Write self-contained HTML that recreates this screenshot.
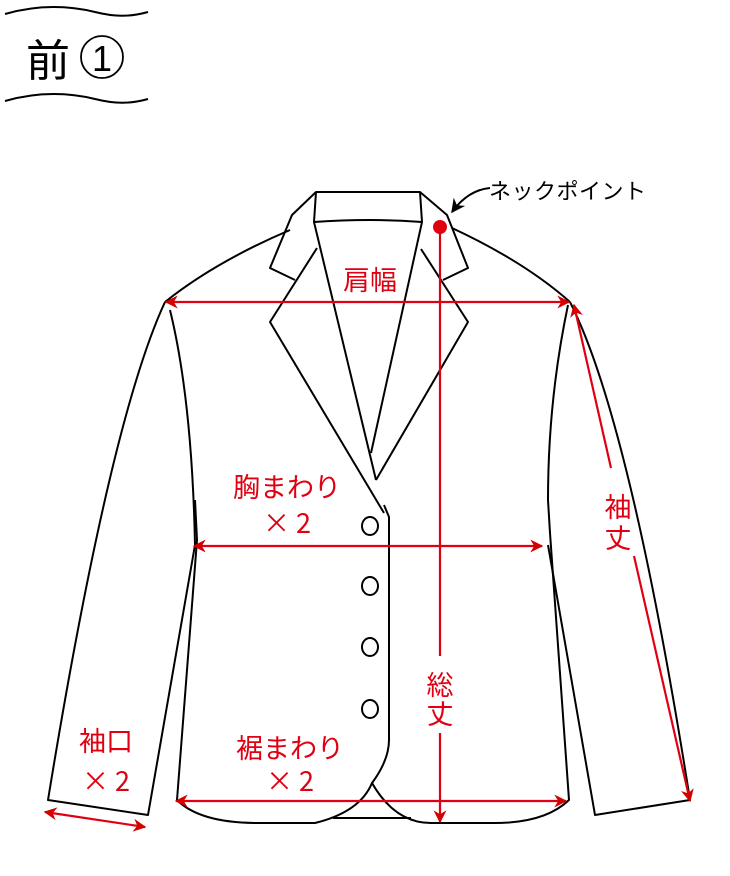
<!DOCTYPE html>
<html><head><meta charset="utf-8"><style>
html,body{margin:0;padding:0;background:#fff}
svg{display:block}
text{font-family:"Liberation Sans","Noto Sans CJK JP",sans-serif}
.x{font-family:"Noto Sans CJK JP",sans-serif}
</style></head><body>
<svg width="730" height="876" viewBox="0 0 730 876" xmlns="http://www.w3.org/2000/svg">
<defs>
<marker id="ar" viewBox="0 0 10 10" refX="9" refY="5" markerWidth="13" markerHeight="13" markerUnits="userSpaceOnUse" orient="auto-start-reverse"><path d="M0,0 L10,5 L0,10 L3,5 Z" fill="#d40000"/></marker>
<marker id="ak" viewBox="0 0 10 10" refX="9" refY="5" markerWidth="14" markerHeight="14" markerUnits="userSpaceOnUse" orient="auto"><path d="M0,0 L10,5 L0,10 L3,5 Z" fill="#000"/></marker>
</defs>
<path d="M5,14 C40,4 70,6 95,12 C115,17 130,17 148,12" fill="none" stroke="#000" stroke-width="2"/>
<path d="M5,101 C40,91 70,93 95,99 C115,104 130,104 148,99" fill="none" stroke="#000" stroke-width="2"/>
<text x="26" y="76" font-size="44" fill="#000">前</text>
<circle cx="102" cy="57" r="21" fill="none" stroke="#000" stroke-width="1.8"/>
<text x="102" y="71" font-size="36" text-anchor="middle" fill="#000">1</text>

<g fill="none" stroke="#000" stroke-width="2" stroke-linejoin="round">
<path d="M316,192 L420,192 L422,222 Q370,218 314,222 Z"/>
<path d="M316,192 L292,215 L270,268 L295,280"/>
<path d="M290,230 Q215,262 165,302"/>
<path d="M420,192 L447,215 L468,268 L443,280"/>
<path d="M452,228 Q525,262 570,302"/>
<path d="M314,222 L376,480"/>
<path d="M422,222 L371,453"/>
<path d="M317,248 L270,322 L384,513"/>
<path d="M421,249 L468,322 L376,480"/>
<path d="M165,302 Q110,420 48,800 L148,815 L195,545 Q192,400 170,310"/>
<path d="M195,500 L197,540 L177,800 Q200,823 258,823 L315,823 Q360,812 372,783 Q389,760 389,740 L389,517 L384,505"/>
<path d="M372,783 Q395,823 431,823 L495,823 Q545,823 569,800 L550,533 L548,500 Q548,400 568,305"/>
<path d="M333,818 L411,818"/>
<path d="M570,302 Q630,420 690,800 L595,815 L548,545"/>
<ellipse cx="370" cy="526" rx="8" ry="9"/>
<ellipse cx="370" cy="586" rx="8" ry="9"/>
<ellipse cx="370" cy="647" rx="8" ry="9"/>
<ellipse cx="370" cy="709" rx="8" ry="9"/>
</g>

<path d="M490,188 Q468,190 452,212" fill="none" stroke="#000" stroke-width="2" marker-end="url(#ak)"/>
<text x="489" y="199" font-size="22" fill="#000" letter-spacing="0.5">ネックポイント</text>

<g stroke="#e00012" stroke-width="2.2" fill="none">
<line x1="166" y1="302" x2="569" y2="302" marker-start="url(#ar)" marker-end="url(#ar)"/>
<line x1="194" y1="546" x2="542" y2="546" marker-start="url(#ar)" marker-end="url(#ar)"/>
<line x1="176" y1="801" x2="566" y2="801" marker-start="url(#ar)" marker-end="url(#ar)"/>
<line x1="440" y1="228" x2="440" y2="656"/>
<line x1="440" y1="733" x2="440" y2="822" marker-end="url(#ar)"/>
<line x1="611" y1="468" x2="574" y2="305" marker-end="url(#ar)"/>
<line x1="634" y1="556" x2="690" y2="801" marker-end="url(#ar)"/>
<line x1="45" y1="812" x2="145" y2="827" marker-start="url(#ar)" marker-end="url(#ar)"/>
</g>
<circle cx="440" cy="227" r="7" fill="#e00012"/>
<g fill="#e00012" font-size="27" text-anchor="middle">
<text x="370" y="290">肩幅</text>
<text x="287" y="497">胸まわり</text>
<text x="287" y="533" class="x">× 2</text>
<text x="290" y="758">裾まわり</text>
<text x="290" y="791" class="x">× 2</text>
<text x="106" y="751">袖口</text>
<text x="106" y="791" class="x">× 2</text>
<text x="440" y="695">総</text>
<text x="440" y="724">丈</text>
<text x="618" y="517">袖</text>
<text x="618" y="548">丈</text>
</g>
</svg>
</body></html>
